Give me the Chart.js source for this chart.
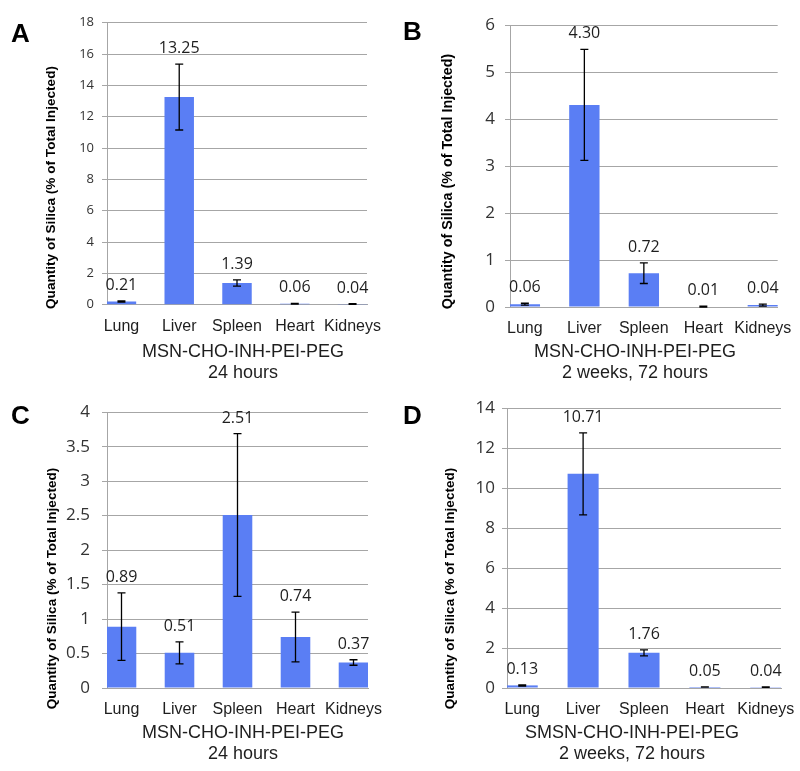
<!DOCTYPE html>
<html>
<head>
<meta charset="utf-8">
<script src="https://cdn.jsdelivr.net/npm/chart.js@4/dist/chart.umd.min.js"></script>
<style>
  body { margin: 0; background: #fff; }
  #wrap { position: relative; width: 800px; height: 771px; }
  canvas { position: absolute; }
</style>
</head>
<body>
<div id="wrap">
  <canvas id="chartA" width="400" height="390" style="left:0;top:0"></canvas>
  <canvas id="chartB" width="400" height="390" style="left:400px;top:0"></canvas>
  <canvas id="chartC" width="400" height="381" style="left:0;top:390px"></canvas>
  <canvas id="chartD" width="400" height="381" style="left:400px;top:390px"></canvas>
</div>
<script>
const categories = ['Lung', 'Liver', 'Spleen', 'Heart', 'Kidneys'];

const valuesA = [0.21, 13.25, 1.39, 0.06, 0.04];
const errorsA = [0.04, 2.1, 0.2, 0.02, 0.02];
const yTicksA = [0, 2, 4, 6, 8, 10, 12, 14, 16, 18];
const xTitleA = ['MSN-CHO-INH-PEI-PEG', '24 hours'];

const valuesB = [0.06, 4.30, 0.72, 0.01, 0.04];
const errorsB = [0.02, 1.18, 0.22, 0.01, 0.02];
const yTicksB = [0, 1, 2, 3, 4, 5, 6];
const xTitleB = ['MSN-CHO-INH-PEI-PEG', '2 weeks, 72 hours'];

const valuesC = [0.89, 0.51, 2.51, 0.74, 0.37];
const errorsC = [0.49, 0.16, 1.18, 0.36, 0.04];
const yTicksC = [0, 0.5, 1, 1.5, 2, 2.5, 3, 3.5, 4];
const xTitleC = ['MSN-CHO-INH-PEI-PEG', '24 hours'];

const valuesD = [0.13, 10.71, 1.76, 0.05, 0.04];
const errorsD = [0.03, 2.05, 0.15, 0.01, 0.01];
const yTicksD = [0, 2, 4, 6, 8, 10, 12, 14];
const xTitleD = ['SMSN-CHO-INH-PEI-PEG', '2 weeks, 72 hours'];

const yTitle = 'Quantity of Silica (% of Total Injected)';

const BAR_COLOR = '#5a7ef4';
const GRID_COLOR = '#a6a6a6';
const TEXT_COLOR = '#1e1e1e';
const FONT_NUM = '"Open Sans", sans-serif';
const FONT_LABEL = '"Liberation Sans", Arial, sans-serif';

// error bars + value labels on top
const errorBars = {
  id: 'errorBars',
  afterDatasetsDraw(chart) {
    const ctx = chart.ctx;
    const x = chart.scales.x;
    const y = chart.scales.y;
    const ds = chart.data.datasets[0];
    ctx.save();
    ds.data.forEach((pt, i) => {
      const err = ds.errors[i];
      const px = x.getPixelForValue(pt.x);
      const top = y.getPixelForValue(pt.y + err);
      const bot = y.getPixelForValue(pt.y - err);
      ctx.strokeStyle = '#000';
      ctx.lineWidth = 1.3;
      ctx.beginPath();
      ctx.moveTo(px, top); ctx.lineTo(px, bot);
      ctx.moveTo(px - 4, top); ctx.lineTo(px + 4, top);
      ctx.moveTo(px - 4, bot); ctx.lineTo(px + 4, bot);
      ctx.stroke();

      ctx.fillStyle = TEXT_COLOR;
      ctx.font = '16px ' + FONT_NUM;
      ctx.textAlign = 'center';
      ctx.textBaseline = 'alphabetic';
      ctx.fillText(pt.y.toFixed(2), px, top - 11);
    });
    ctx.restore();
  }
};

// panel letter, rotated y title and two-line x title
const panelText = {
  id: 'panelText',
  afterDraw(chart, args, o) {
    const ctx = chart.ctx;
    ctx.save();
    ctx.fillStyle = '#000';
    ctx.font = 'bold 26px ' + FONT_LABEL;
    ctx.textAlign = 'left';
    ctx.textBaseline = 'alphabetic';
    ctx.fillText(o.letter, o.letterX, o.letterY);

    ctx.font = '18px ' + FONT_LABEL;
    ctx.fillStyle = TEXT_COLOR;
    ctx.textAlign = 'center';
    ctx.textBaseline = 'middle';
    o.xTitle.forEach((line, i) => ctx.fillText(line, o.xTitleX, o.xTitleY + i * 21));

    ctx.translate(o.yTitleX, o.yTitleY);
    ctx.rotate(-Math.PI / 2);
    ctx.font = 'bold ' + o.yTitleSize + 'px ' + FONT_LABEL;
    ctx.fillStyle = '#000';
    ctx.fillText(yTitle, 0, 0);
    ctx.restore();
  }
};

function makePanel(id, values, errors, yTicks, xTitle, p) {
  return new Chart(document.getElementById(id), {
    type: 'bar',
    data: {
      datasets: [{
        data: values.map((v, i) => ({ x: i, y: v })),
        errors: errors,
        backgroundColor: BAR_COLOR,
        categoryPercentage: 1,
        barPercentage: 0.51,
      }]
    },
    options: {
      responsive: false,
      animation: false,
      layout: { padding: { left: 0, right: p.right, top: p.top, bottom: 0 } },
      plugins: {
        legend: { display: false },
        tooltip: { enabled: false },
        panelText: {
          letter: p.letter, letterX: p.letterX, letterY: p.letterY,
          xTitle: xTitle, xTitleX: p.xTitleX, xTitleY: p.xTitleY,
          yTitleX: p.yTitleX, yTitleY: p.yTitleY, yTitleSize: p.yTitleSize,
        },
      },
      scales: {
        x: {
          type: 'linear',
          offset: false,
          min: -0.25,
          max: 4.25,
          afterBuildTicks: (s) => { s.ticks = categories.map((c, i) => ({ value: i })) },
          afterFit: (s) => { s.height = p.xHeight },
          grid: { display: false },
          border: { color: GRID_COLOR },
          ticks: {
            autoSkip: false,
            maxRotation: 0,
            padding: 4,
            color: TEXT_COLOR,
            font: { family: FONT_LABEL, size: 16 },
            callback: (v) => categories[v],
          },
        },
        y: {
          min: yTicks[0],
          max: yTicks[yTicks.length - 1],
          afterBuildTicks: (s) => { s.ticks = yTicks.map((v) => ({ value: v })) },
          afterFit: (s) => { s.width = p.left },
          grid: { color: GRID_COLOR, tickLength: 5 },
          border: { color: GRID_COLOR },
          ticks: {
            padding: p.tickPad,
            color: '#333',
            font: { family: FONT_NUM, size: p.tickSize },
            callback: (v) => String(v),
          },
        },
      },
    },
    plugins: [errorBars, panelText],
  });
}

makePanel('chartA', valuesA, errorsA, yTicksA, xTitleA, {
  left: 107, right: 33, top: 22.7, xHeight: 85.3, tickPad: 8, tickSize: 13,
  letter: 'A', letterX: 11, letterY: 42,
  xTitleX: 243, xTitleY: 352, yTitleX: 51, yTitleY: 187.5, yTitleSize: 13.6,
});
makePanel('chartB', valuesB, errorsB, yTicksB, xTitleB, {
  left: 110, right: 22.3, top: 25, xHeight: 83, tickPad: 10, tickSize: 17,
  letter: 'B', letterX: 3, letterY: 40,
  xTitleX: 235, xTitleY: 352, yTitleX: 48, yTitleY: 181.5, yTitleSize: 14.3,
});
makePanel('chartC', valuesC, errorsC, yTicksC, xTitleC, {
  left: 107, right: 32, top: 15.7, xHeight: 83, tickPad: 12, tickSize: 17,
  letter: 'C', letterX: 11, letterY: 33.5,
  xTitleX: 243, xTitleY: 343, yTitleX: 52, yTitleY: 198.5, yTitleSize: 13.5,
});
makePanel('chartD', valuesD, errorsD, yTicksD, xTitleD, {
  left: 107, right: 19, top: 18, xHeight: 83, tickPad: 7, tickSize: 17,
  letter: 'D', letterX: 3, letterY: 33.5,
  xTitleX: 232, xTitleY: 343, yTitleX: 50, yTitleY: 198.5, yTitleSize: 13.5,
});
</script>
</body>
</html>
